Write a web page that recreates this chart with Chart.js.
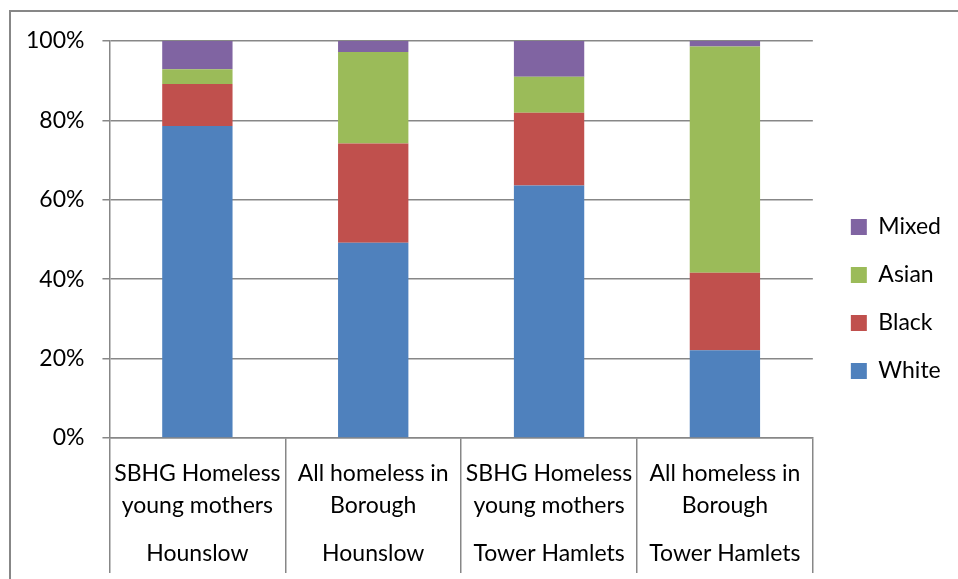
<!DOCTYPE html>
<html>
<head>
<meta charset="utf-8">
<script src="https://cdn.jsdelivr.net/npm/chart.js@4"></script>
<style>
  body { margin: 0; background: #fff; }
  #wrap { position: relative; width: 958px; height: 579px; overflow: hidden; }
  #frame { position: absolute; left: 9px; top: 10px; width: 1000px; height: 700px; border: 2px solid #878787; }
  #grafica { position: absolute; left: 0; top: 0; }
</style>
</head>
<body>
<div id="wrap">
  <div id="frame"></div>
  <canvas id="grafica" width="958" height="579"></canvas>
</div>
<script>
const groups = [
  ['SBHG Homeless', 'young mothers'],
  ['All homeless in', 'Borough'],
  ['SBHG Homeless', 'young mothers'],
  ['All homeless in', 'Borough']
];
const boroughs = ['Hounslow', 'Hounslow', 'Tower Hamlets', 'Tower Hamlets'];

// porcentajes por grupo étnico
const white = [78.6, 49.2, 63.6, 22.1];
const black = [10.6, 25.0, 18.3, 19.5];
const asian = [3.7, 23.0, 9.1, 57.0];
const mixed = [7.1, 2.8, 9.0, 1.4];

const yTicks = [0, 20, 40, 60, 80, 100];

// etiqueta de dos niveles: grupo arriba, distrito abajo (líneas vacías = separación)
const labels = groups.map((g, i) => [g[0], '', g[1], '', '', boroughs[i]]);

const fuente = { family: 'Lato', size: 23 };
const gris = '#878787';

// acomoda la leyenda: un poco a la derecha y hacia arriba
const legendGap = {
  id: 'legendGap',
  afterLayout(chart) {
    const lg = chart.legend;
    lg.left += 13;
    lg.right += 13;
    lg.top -= 11;
    lg.bottom -= 11;
  }
};

const ctx = document.getElementById('grafica').getContext('2d');

const data = {
  labels: labels,
  datasets: [
    { label: 'White', data: white, backgroundColor: '#4F81BD' },
    { label: 'Black', data: black, backgroundColor: '#C0504D' },
    { label: 'Asian', data: asian, backgroundColor: '#9BBB59' },
    { label: 'Mixed', data: mixed, backgroundColor: '#8064A2' }
  ]
};

const config = {
  type: 'bar',
  data: data,
  plugins: [legendGap],
  options: {
    responsive: false,
    animation: false,
    categoryPercentage: 1,
    barPercentage: 0.4,
    layout: { padding: { left: 8, top: 41, right: 20, bottom: 0 } },
    plugins: {
      tooltip: { enabled: false },
      legend: {
        position: 'right',
        reverse: true,
        labels: {
          font: fuente,
          color: '#000',
          boxWidth: 16,
          boxHeight: 16,
          padding: 25
        }
      }
    },
    scales: {
      x: {
        stacked: true,
        border: { color: gris, width: 1.5 },
        grid: {
          offset: true,
          drawOnChartArea: false,
          drawTicks: true,
          tickLength: 135,
          color: gris,
          lineWidth: 1.5
        },
        ticks: {
          font: { family: 'Lato', size: 23, lineHeight: '16px' },
          color: '#000',
          padding: -107,
          maxRotation: 0,
          autoSkip: false
        },
        afterFit: scale => { scale.height = 141; }
      },
      y: {
        stacked: true,
        min: 0,
        max: 100,
        border: { color: gris, width: 1.5 },
        grid: { color: gris, lineWidth: 1.5, tickLength: 7 },
        afterBuildTicks: scale => { scale.ticks = yTicks.map(v => ({ value: v })); },
        ticks: {
          font: fuente,
          color: '#000',
          padding: 18,
          callback: v => v + '%'
        }
      }
    }
  }
};

const barChart = new Chart(ctx, config);
</script>
</body>
</html>
